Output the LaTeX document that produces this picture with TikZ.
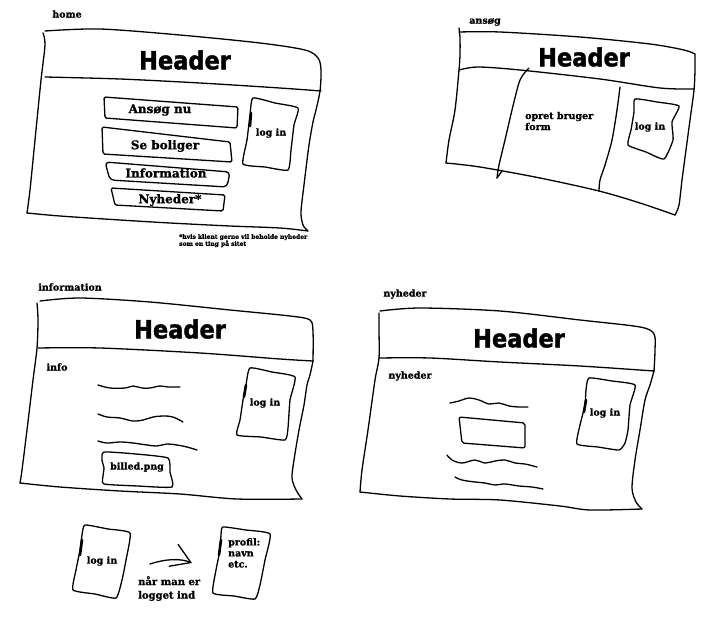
\documentclass[tikz,border=0pt]{standalone}
\usepackage{fontspec}
\setmainfont{DejaVu Serif}[BoldFeatures={FakeBold=1.2}]
\newfontfamily\hdrfont{DejaVu Sans Condensed}[BoldFeatures={FakeBold=1.5}]
\usetikzlibrary{arrows.meta}
\tikzset{
  sk/.style={line width=1.3pt, line cap=round, line join=round},
  thickmark/.style={line width=2.6pt, line cap=round},
  hdr/.style={font=\hdrfont\bfseries\fontsize{25}{27}\selectfont, inner sep=0pt},
  lbl/.style={font=\bfseries\fontsize{9.5}{11}\selectfont, inner sep=0pt},
  btn/.style={font=\bfseries\fontsize{12}{14}\selectfont, inner sep=0pt},
  note/.style={font=\bfseries\fontsize{6}{7}\selectfont, inner sep=0pt, align=left, anchor=north west},
}
\begin{document}
\begin{tikzpicture}[x=1pt,y=-1pt]
\useasboundingbox (0,0) rectangle (704,632);
\fill[white] (0,0) rectangle (704,632);

% ================= HOME =================
\node[lbl] (homelbl) at (67,14) {home};
\draw[sk] plot[smooth, tension=0.5] coordinates {(45,31) (100,29) (180,35) (260,43) (305,50) (318,58) (321,70) (320,91) (316,110) (313,122) (309,145) (304,185) (301,212) (303,225) (308,231)};
\draw[sk] plot[smooth, tension=0.5] coordinates {(43,33) (45,45) (41,80) (35,140) (30,190) (27,213)};
\draw[sk] plot[smooth, tension=0.5] coordinates {(27,213) (60,216) (120,220) (170,223) (230,226) (280,228) (308,231)};
\draw[sk] plot[smooth, tension=0.5] coordinates {(45,77) (120,79) (200,83) (280,88) (321,91)};
\node[hdr] (homehdr) at (185,60) {Header};
\draw[sk, rounded corners=1.5pt] (104,97) -- (238,107) -- (237,128) -- (105,118) -- cycle;
\node[btn] (ansognu) at (160,110) {Ansøg nu};
\draw[sk, rounded corners=1.5pt] (102,127) -- (230,142) -- (232,162) -- (103,154) -- cycle;
\node[btn] (seboliger) at (165,146) {Se boliger};
\draw[sk, rounded corners=4pt] (105,162) -- (230,172) -- (227,187) -- (110,180) -- cycle;
\node[btn] (information) at (166,173) {Information};
\draw[sk, rounded corners=1.5pt] (111,188) -- (225,195) -- (223,211) -- (115,205) -- cycle;
\node[btn] (nyhederbtn) at (170,200) {Nyheder*};
\draw[sk] plot[smooth cycle, tension=0.3] coordinates {(253,98) (275,103) (298,108) (294,125) (291,150) (288,170) (265,167) (243,164) (247,140) (250,115)};
\draw[thickmark] (251,113) -- (250,126);
\node[lbl] (homelogin) at (271,133) {log in};
\node[note] (footnote) at (179,234) {*hvis klient gerne vil beholde nyheder\\som en ting på sitet};

% ================= ANSØG =================
\node[lbl] (ansoglbl) at (485,22) {ansøg};
\draw[sk] plot[smooth, tension=0.5] coordinates {(459,28) (460,38) (460,55) (459,70) (455,110) (449,140) (446,163)};
\draw[sk] plot[smooth, tension=0.5] coordinates {(459,32) (500,32) (580,37) (650,44) (684,50) (695,54)};
\draw[sk] plot[smooth, tension=0.5] coordinates {(695,54) (695,70) (694,90) (690,120) (686,150) (682,180) (679,205) (675,215)};
\draw[sk] plot[smooth, tension=0.5] coordinates {(459,70) (478,67) (520,70) (600,79) (660,88) (694,89)};
\draw[sk] plot[smooth, tension=0.5] coordinates {(446,163) (480,167) (540,178) (599,191) (640,203) (675,215)};
\draw[sk] plot[smooth, tension=0.5] coordinates {(529,68) (520,80) (512,110) (505,140) (499,165) (497,178)};
\draw[sk] (497,178) -- (502,171);
\draw[sk] plot[smooth, tension=0.5] coordinates {(620,87) (617,110) (612,140) (605,165) (600,180) (599,191)};
\node[hdr] (ansoghdr) at (584,57) {Header};
\node[lbl, align=left, anchor=west] (opret) at (525,121) {opret bruger\\form};
\draw[sk] plot[smooth cycle, tension=0.3] coordinates {(635,99) (657,102) (679,106) (672,122) (673,140) (664,159) (646,152) (628,145) (631,130) (634,112)};
\node[lbl] (ansoglogin) at (650,127) {log in};

% ================= INFORMATION =================
\node[lbl] (infolbl) at (70,287) {information};
\draw[sk] plot[smooth, tension=0.5] coordinates {(40,301) (80,298) (150,302) (230,310) (290,316) (310,320) (313,332) (313,361)};
\draw[sk] plot[smooth, tension=0.5] coordinates {(313,361) (310,375) (307,385) (304,405) (299,430) (294,460) (292,478) (296,490) (302,499)};
\draw[sk] plot[smooth, tension=0.5] coordinates {(37,303) (38,320) (37,348) (33,380) (27,430) (22,470) (20,483)};
\draw[sk] plot[smooth, tension=0.5] coordinates {(20,483) (60,487) (120,491) (180,494) (237,499) (302,499)};
\draw[sk] plot[smooth, tension=0.5] coordinates {(38,348) (100,348) (200,353) (280,359) (313,361)};
\node[hdr] (infohdr) at (180,329) {Header};
\node[lbl] (infotxt) at (57,367) {info};
\draw[sk] plot[smooth, tension=0.6] coordinates {(98,385) (110,388) (125,388) (133,386) (142,388) (150,388) (160,386) (168,387) (180,387)};
\draw[sk] plot[smooth, tension=0.6] coordinates {(98,414) (107,417) (120,418) (133,421) (143,420) (153,417) (163,416) (173,417) (183,422)};
\draw[sk] plot[smooth, tension=0.6] coordinates {(98,441) (107,443) (120,442) (133,443) (147,445) (157,446) (167,444) (177,445) (187,447) (197,450)};
\draw[sk] plot[smooth cycle, tension=0.3] coordinates {(104,452) (136,454) (168,458) (170,472) (172,487) (138,486) (104,484) (103,476) (104,468) (102,460)};
\node[lbl] (billed) at (137,467) {billed.png};
\draw[sk] plot[smooth cycle, tension=0.3] coordinates {(250,368) (272,372) (295,377) (290,400) (288,428) (285,440) (261,437) (237,435) (240,420) (243,400) (246,385)};
\draw[thickmark] (246,385) -- (244,397);
\node[lbl] (infologin) at (265,403) {log in};

% ================= NYHEDER =================
\node[lbl] (nyhlbl) at (405,294) {nyheder};
\draw[sk] plot[smooth, tension=0.5] coordinates {(380,311) (420,308) (500,311) (580,320) (640,327) (654,334) (655,350) (654,371)};
\draw[sk] plot[smooth, tension=0.5] coordinates {(654,371) (650,385) (645,400) (640,430) (635,460) (632,488) (636,502) (642,509)};
\draw[sk] plot[smooth, tension=0.5] coordinates {(379,313) (379,330) (379,358) (375,380) (368,430) (362,470) (360,492)};
\draw[sk] plot[smooth, tension=0.5] coordinates {(360,492) (400,496) (450,499) (500,500) (560,506) (590,510) (642,509)};
\draw[sk] plot[smooth, tension=0.5] coordinates {(379,358) (430,358) (500,362) (580,366) (654,371)};
\node[hdr] (nyhhdr) at (519,338) {Header};
\node[lbl] (nyhtxt) at (410,376) {nyheder};
\draw[sk] plot[smooth, tension=0.6] coordinates {(450,403) (459,401) (469,398) (479,400) (489,404) (499,403) (509,406) (519,407) (528,407)};
\draw[sk, rounded corners=2pt] (459,417) -- (525,423) -- (525,448) -- (462,443) -- cycle;
\draw[sk] plot[smooth, tension=0.6] coordinates {(447,455) (452,460) (462,463) (475,460) (485,463) (495,461) (505,460) (515,463) (525,464) (537,467)};
\draw[sk] plot[smooth, tension=0.6] coordinates {(455,477) (462,480) (475,482) (485,483) (495,485) (505,484) (519,486) (532,487) (543,489)};
\draw[sk] plot[smooth cycle, tension=0.3] coordinates {(589,378) (612,381) (635,385) (630,405) (628,430) (625,443) (619,450) (598,447) (577,444) (580,425) (585,405) (586,390)};
\draw[thickmark] (586,400) -- (584,412);
\node[lbl] (nyhlogin) at (605,413) {log in};

% ================= BOTTOM =================
\draw[sk] plot[smooth cycle, tension=0.3] coordinates {(85,525) (108,529) (130,533) (126,560) (122,580) (116,598) (95,594) (73,590) (76,570) (80,550) (82,535)};
\draw[thickmark] (82,540) -- (80,555);
\node[lbl] (login4) at (102,561) {log in};
\draw[sk] plot[smooth cycle, tension=0.3] coordinates {(223,527) (246,530) (270,534) (265,560) (260,585) (255,599) (234,596) (213,593) (216,570) (220,550) (221,535)};
\draw[thickmark] (221,540) -- (219,555);
\node[lbl, align=left, anchor=north west] (profil) at (228,538) {profil:\\navn\\etc.};
\coordinate (arrs) at (150,564);
\coordinate (arre) at (192,563);
\draw[sk, -{Straight Barb[length=19pt, width=24pt, line width=1.3pt]}] (arrs) .. controls (165,559) and (180,558) .. (arre);
\node[lbl, align=left, anchor=north west, font=\bfseries\fontsize{10}{13.5}\selectfont] (naar) at (138,576) {når man er\\logget ind};
\end{tikzpicture}
\end{document}
